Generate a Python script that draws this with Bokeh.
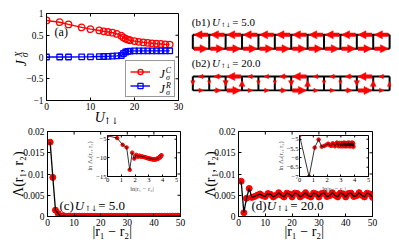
import numpy as np
from bokeh.plotting import figure
from bokeh.models import (Range1d, Label, Legend, LegendItem, Arrow, NormalHead, FixedTicker)
from bokeh.embed import file_html
from bokeh.resources import INLINE

FONT = "Liberation Serif"
AFONT = "DejaVu Serif"
RED = "#ff0000"
BLUE = "#0000ff"

# ---------------- data : panel (a) ----------------
U_vals = [0, 3, 5, 8, 10, 12, 13, 14, 15, 16, 17, 17.5, 18, 18.5, 19,
          20, 21, 22, 23, 24, 25, 26, 27, 28]
J_C = [0.84, 0.80, 0.75, 0.68, 0.64, 0.61, 0.59, 0.575, 0.56, 0.53, 0.49, 0.45,
       0.42, 0.40, 0.385, 0.365, 0.35, 0.335, 0.325, 0.315, 0.305, 0.30, 0.29, 0.285]
J_R = [0.0, 0.0, 0.0, 0.003, 0.005, 0.01, 0.012, 0.015, 0.02, 0.025, 0.035, 0.08,
       0.115, 0.13, 0.135, 0.14, 0.14, 0.14, 0.14, 0.14, 0.14, 0.14, 0.14, 0.14]
a_xticks = [0, 10, 20, 30]
a_yticks = [-1, -0.5, 0, 0.5, 1]
a_ylabels = {-1: "\u22121", -0.5: "\u22120.5", 0: "0", 0.5: "0.5", 1: "1"}

# ---------------- data : panel (b) ladder currents ----------------
b1_top = [1.0, 1.0, 1.0, 1.0, 1.0, 1.0, 1.0, 1.0, 1.0, 1.0, 1.0, 1.0]
b1_bot = [1.0, 1.0, 1.0, 1.0, 1.0, 1.0, 1.0, 1.0, 1.0, 1.0, 1.0, 1.0]
b1_rung = [0, 0, 0, 0, 0, 0, 0, 0, 0, 0, 0, 0, 0]
b2_top = [0.35, 0.5, 1.0, 0.35, 0.35, 0.5, 1.0, 0.35, 0.35, 0.5, 1.0, 0.35]
b2_bot = [0.35, 0.5, 1.0, 0.35, 0.35, 0.5, 1.0, 0.35, 0.35, 0.5, 1.0, 0.35]
b2_rung = [0.35, 0.15, 0.5, -0.6, 0.2, 0.15, 0.5, -0.6, 0.2, 0.15, 0.5, -0.6, -0.35]
sites = list(range(13))

# ---------------- data : panels (c), (d) ----------------
dist = list(range(1, 51))
c_vals = [0.0175, 0.0092, 0.0015, 0.0007, 0.00002, 0.00020, 0.00004, 0.00009, 0.00006, 0.00008,
          0.00006, 0.00007, 0.00006, 0.00006, 0.00005, 0.00005, 0.00005, 0.00004, 0.00004, 0.00004,
          0.00004, 0.00004, 0.00004, 0.00003, 0.00003, 0.00003, 0.00003, 0.00003, 0.00003, 0.00003,
          0.00003, 0.00003, 0.00003, 0.00003, 0.00003, 0.00003, 0.00004, 0.00004, 0.00004, 0.00004,
          0.00004, 0.00005, 0.00005, 0.00005, 0.00006, 0.00006, 0.00007, 0.00007, 0.00008, 0.00009]
d_vals = [0.0083, 0.0009, 0.0043, 0.0066, 0.0045, 0.0047, 0.0050, 0.0053, 0.0049, 0.0047,
          0.0054, 0.0052, 0.0046, 0.0050, 0.0056, 0.0050, 0.0046, 0.0055, 0.0053, 0.0046,
          0.0055, 0.0054, 0.0046, 0.0050, 0.0056, 0.0049, 0.0046, 0.0055, 0.0053, 0.0046,
          0.0054, 0.0055, 0.0047, 0.0049, 0.0056, 0.0050, 0.0046, 0.0055, 0.0053, 0.0046,
          0.0054, 0.0055, 0.0047, 0.0049, 0.0056, 0.0050, 0.0046, 0.0055, 0.0053, 0.0045]
inset_c_y = [-4.05, -4.7, -6.5, -7.2, -13.2, -8.6, -10.2, -9.2, -9.7, -9.4,
             -9.7, -9.6, -9.75, -9.75, -9.85, -9.9, -10.0, -10.05, -10.1, -10.15,
             -10.2, -10.25, -10.3, -10.3, -10.35, -10.35, -10.4, -10.4, -10.4, -10.4,
             -10.4, -10.4, -10.35, -10.35, -10.3, -10.3, -10.25, -10.2, -10.15, -10.1,
             -10.05, -10.0, -9.9, -9.85, -9.75, -9.7, -9.6, -9.5, -9.4, -9.3]
inset_d_y = [-4.79, -7.01, -5.45, -5.02, -5.40, -5.36, -5.30, -5.24, -5.32, -5.36,
             -5.22, -5.26, -5.38, -5.30, -5.18, -5.30, -5.38, -5.20, -5.24, -5.38,
             -5.20, -5.22, -5.38, -5.30, -5.18, -5.32, -5.38, -5.20, -5.24, -5.38,
             -5.22, -5.20, -5.36, -5.32, -5.18, -5.30, -5.38, -5.20, -5.24, -5.38,
             -5.22, -5.20, -5.36, -5.32, -5.18, -5.30, -5.38, -5.20, -5.24, -5.40]
inset_x = list(np.log(dist))
cd_xticks = [0, 10, 20, 30, 40, 50]
cd_yticks = [0, 0.005, 0.01, 0.015, 0.02]
cd_ylabels = {0: "0", 0.005: "0.005", 0.01: "0.01", 0.015: "0.015", 0.02: "0.02"}
in_xticks = [0, 1, 2, 3, 4, 5]
inc_yticks = [-15, -10, -5]
inc_ylabels = {-15: "\u221215", -10: "\u221210", -5: "\u22125"}
ind_yticks = [-7, -6.5, -6, -5.5, -5]
ind_ylabels = {-7: "\u22127", -6.5: "\u22126.5", -6: "\u22126", -5.5: "\u22125.5", -5: "\u22125"}

# ---------------- helpers ----------------
SX, SY = 0.96, 0.936   # reference-pixel -> content-pixel scale
PAGE = 8               # body margin


def fig(left, top, w, h, xr, yr, l=0, r=0, t=0, b=0, axes=True):
    kw = {}
    if not axes:
        kw = dict(x_axis_location=None, y_axis_location=None)
    p = figure(width=w, height=h, x_range=Range1d(*xr), y_range=Range1d(*yr),
               min_border_left=l, min_border_right=r, min_border_top=t, min_border_bottom=b,
               title=None, output_backend="svg", toolbar_location=None, **kw)
    p.styles = {"position": "absolute", "left": f"{PAGE + left}px", "top": f"{PAGE + top}px"}
    p.background_fill_color = "white"
    p.grid.visible = False
    return p


def style(p, xt, yt, ylab, fs, tin, so_x, so_y, fw, fh):
    p.xaxis.ticker = FixedTicker(ticks=xt)
    p.yaxis.ticker = FixedTicker(ticks=yt)
    p.yaxis.major_label_overrides = ylab
    p.xaxis.major_label_standoff = so_x
    p.yaxis.major_label_standoff = so_y
    for ax in p.axis:
        ax.major_tick_in = tin
        ax.major_tick_out = 0
        ax.minor_tick_line_color = None
        ax.axis_line_color = "black"
        ax.major_tick_line_color = "black"
        ax.major_label_text_font = FONT
        ax.major_label_text_font_size = fs
        ax.major_label_text_color = "black"
    p.outline_line_color = "black"
    p.outline_line_alpha = 1.0
    # inward ticks on the top and right edges of the box (MATLAB style)
    xr, yr = p.x_range, p.y_range
    dx = tin / fw * (xr.end - xr.start)
    dy = tin / fh * (yr.end - yr.start)
    p.segment(x0=xt, y0=[yr.end] * len(xt), x1=xt, y1=[yr.end - dy] * len(xt),
              line_color="black", line_width=1)
    p.segment(x0=[xr.end] * len(yt), y0=yt, x1=[xr.end - dx] * len(yt), y1=yt,
              line_color="black", line_width=1)


# ---------------- panel (a) ----------------
pa = fig(0, 0, 182, 115, (0, 30), (-1, 1), 38, 12, 5, 23)
style(pa, a_xticks, a_yticks, a_ylabels, "9.5px", 3, 2, 3, 132, 87)
lc = pa.line(U_vals, J_C, line_color=RED, line_width=1.4)
mc = pa.scatter(U_vals, J_C, marker="circle", size=6.5, line_color=RED, fill_color=None, line_width=1.3)
lr = pa.line(U_vals, J_R, line_color=BLUE, line_width=1.4)
mr = pa.scatter(U_vals, J_R, marker="square", size=5.5, line_color=BLUE, fill_color=None, line_width=1.3)
leg = Legend(items=[LegendItem(label=" ", renderers=[lc, mc]),
                    LegendItem(label=" ", renderers=[lr, mr])],
             location="bottom_right", margin=3, padding=4, spacing=1,
             glyph_width=20, glyph_height=13, label_height=13, label_width=18,
             label_standoff=2, label_text_font_size="8px",
             border_line_color="#333333", border_line_width=1.2,
             background_fill_color="white", background_fill_alpha=1.0)
pa.add_layout(leg)

# ---------------- panel (b) ----------------
BX = (-0.1415, 12.115)
BY = (-2.38, 5.89)
pb = fig(182, 0, 201, 115, BX, BY, axes=False)
pb.outline_line_color = None


def ladder(p, y_bot, top, bot, rung, rail_w):
    n = len(sites) - 1
    p.multi_line([[sites[0], sites[-1]], [sites[0], sites[-1]]],
                 [[y_bot + 1, y_bot + 1], [y_bot, y_bot]], line_color="black", line_width=rail_w)
    p.multi_line([[s, s] for s in sites], [[y_bot, y_bot + 1] for s in sites],
                 line_color="black", line_width=2)
    for i in range(n):
        for m, yy, sgn in ((top[i], y_bot + 1, -1), (bot[i], y_bot, 1)):
            if m == 0:
                continue
            c = sites[i] + 0.5
            L = 0.86 * m
            head = NormalHead(size=2.5 + 5.5 * m, fill_color=RED, line_color=RED, line_width=0.5)
            p.add_layout(Arrow(end=head, x_start=c - sgn * L / 2, y_start=yy,
                               x_end=c + sgn * L / 2, y_end=yy,
                               line_color=RED, line_width=0.6 + 3.4 * m))
    for i, m in enumerate(rung):
        if m == 0:
            continue
        yc = y_bot + 0.5
        L = 0.7 * abs(m)
        sgn = -1 if m > 0 else 1
        head = NormalHead(size=2.5 + 5.5 * abs(m), fill_color=RED, line_color=RED, line_width=0.5)
        p.add_layout(Arrow(end=head, x_start=sites[i], y_start=yc - sgn * L / 2,
                           x_end=sites[i], y_end=yc + sgn * L / 2,
                           line_color=RED, line_width=0.6 + 3.4 * abs(m)))


ladder(pb, 3, b1_top, b1_bot, b1_rung, 2)
ladder(pb, 0, b2_top, b2_bot, b2_rung, 1.8)


# ---------------- panels (c) and (d) ----------------
def main_panel(left, w, bl, br, vals):
    p = fig(left, 115, w, 120, (0, 50), (0, 0.02), bl, br, 8, 27)
    style(p, cd_xticks, cd_yticks, cd_ylabels, "9.5px", 3, 2, 3, w - bl - br, 85)
    p.scatter(dist, vals, marker="circle", size=6, line_color=RED, fill_color=RED)
    p.line(dist, vals, line_color="black", line_width=1.3)
    return p


IN_L, IN_R, IN_T, IN_B = 32, 2, 2, 22      # inset borders (generous, so the frame keeps its size)
IN_FW, IN_FH = 69, 41                      # inset frame size


def inset(frame_left, frame_top, yr, ys, yt, ylab):
    p = fig(frame_left - IN_L, frame_top - IN_T, IN_L + IN_FW + IN_R, IN_T + IN_FH + IN_B,
            (0, 5), yr, IN_L, IN_R, IN_T, IN_B)
    style(p, in_xticks, yt, ylab, "6.5px", 2, 1, 1, IN_FW, IN_FH)
    p.border_fill_alpha = 0.0
    p.xaxis.axis_label = "ln|r\u2081 \u2212 r\u2082|"
    p.yaxis.axis_label = "ln \u039b\u2091(r\u2081, r\u2082)"
    for ax in p.axis:
        ax.axis_label_text_font = FONT
        ax.axis_label_text_font_size = "6.5px"
        ax.axis_label_text_font_style = "normal"
        ax.axis_label_standoff = 0
    p.scatter(inset_x, ys, marker="circle", size=3.5, line_color=RED, fill_color=RED)
    p.line(inset_x, ys, line_color="black", line_width=0.8)
    return p


pc = main_panel(0, 182, 39, 10, c_vals)
pd = main_panel(182, 201, 48, 19, d_vals)
ic = inset(99, 127, (-15, -4), inset_c_y, inc_yticks, inc_ylabels)
idd = inset(291, 127, (-7, -4.8), inset_d_y, ind_yticks, ind_ylabels)

# ---------------- text overlay (page coordinates of the reference) ----------------
ann = fig(0, 0, 383, 235, (0, 383), (235, 0), axes=False)
ann.outline_line_color = None
ann.background_fill_alpha = 0.0
ann.border_fill_alpha = 0.0


def put(txt, rx, ry, size, style_="normal", align="left", angle=0.0, font=FONT):
    ann.add_layout(Label(x=SX * rx, y=SY * ry, text=txt, text_font=font,
                         text_font_size=f"{size}px", text_font_style=style_,
                         text_align=align, text_baseline="middle", angle=angle,
                         text_color="black"))


# panel (a) texts
put("(a)", 48, 25, 12)
put("J", 14, 58.5, 14, "italic", "center", np.pi / 2)
put("X", 10.5, 49, 9.5, "italic", "center", np.pi / 2)
put("\u03c3", 17.5, 49.5, 9.5, "italic", "center", np.pi / 2)
put("U", 95, 116.5, 14, "italic", "center")
put("\u2191\u2193", 107, 120, 9, "normal", "center", font=AFONT)
for yy, sup in ((70, "C"), (86, "R")):
    put("J", 160, yy, 12, "italic", "center")
    put(sup, 166.5, yy - 4, 8, "italic", "center")
    put("\u03c3", 166, yy + 4, 8, "italic", "center")

# panel (b) texts
for yy, lab, val in ((14, "(b1)", "= 5.0"), (58, "(b2)", "= 20.0")):
    put(lab, 191, yy, 11)
    put("U", 212, yy, 11, "italic")
    put("\u2191\u2193", 221, yy + 3, 6, font=AFONT)
    put(val, 233, yy, 11)

# panels (c), (d) texts
for rx0, tag, val in ((0, "(c)", "= 5.0"), (200, "(d)", "= 20.0")):
    put("\u039b(r\u2081, r\u2082)", rx0 + 10.5, 177, 14, "normal", "center", np.pi / 2)
    put("|r\u2081 \u2212 r\u2082|", rx0 + 108, 238, 14, "normal", "center")
    put(tag, rx0 + 53, 211, 13)
    put("U", rx0 + 69, 211, 13, "italic")
    put("\u2191\u2193", rx0 + 79.5, 214, 7.5, font=AFONT)
    put(val, rx0 + 93.5, 211, 13)

html = file_html([pa, pb, pc, pd, ic, idd, ann], INLINE)
open("out.html", "w").write(html)
